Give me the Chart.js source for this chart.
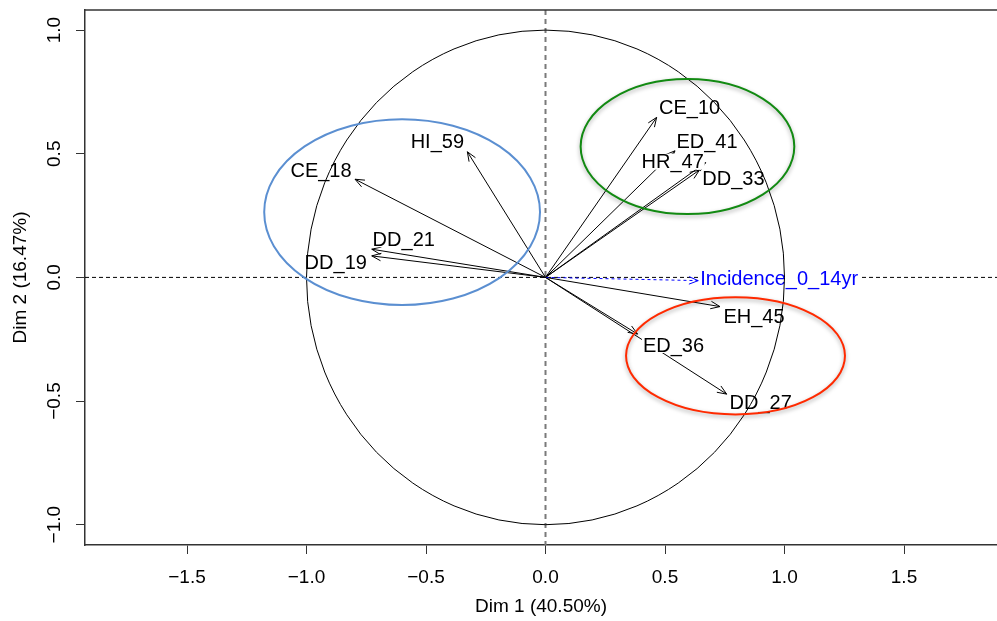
<!DOCTYPE html>
<html>
<head>
<meta charset="utf-8">
<script src="https://cdn.jsdelivr.net/npm/chart.js@4/dist/chart.umd.min.js"></script>
<style>
html,body{margin:0;padding:0;background:#fff;}
#c{display:block;}
</style>
</head>
<body>
<canvas id="c" width="997" height="621"></canvas>
<script>
// ---- data ----
const varNames = ["CE_10","ED_41","HR_47","DD_33","HI_59","CE_18","DD_21","DD_19","Incidence_0_14yr","EH_45","ED_36","DD_27"];
const dim1 = [0.465, 0.542, 0.670, 0.644, -0.327, -0.797, -0.727, -0.727, 0.639, 0.730, 0.385, 0.758];
const dim2 = [0.647, 0.512, 0.464, 0.434, 0.508, 0.397, 0.114, 0.087, -0.013, -0.118, -0.229, -0.472];
const supplementary = [false,false,false,false,false,false,false,false,true,false,false,false];
const xTicks = [-1.5, -1.0, -0.5, 0.0, 0.5, 1.0, 1.5];
const yTicks = [-1.0, -0.5, 0.0, 0.5, 1.0];
const xTitle = "Dim 1 (40.50%)";
const yTitle = "Dim 2 (16.47%)";
// group ellipses: centre x, centre y, radius x, radius y (in axis units)
const groupCx = [-0.600, 0.594, 0.795];
const groupCy = [0.264, 0.529, -0.317];
const groupRx = [0.577, 0.447, 0.458];
const groupRy = [0.376, 0.273, 0.237];

// ---- styling ----
const groupColors = ["#5b8fd1", "#128a12", "#ff2a00"];
const groupShadow = [false, true, true];
// label offsets in pixels from arrow tip to label centre (left-aligned for supplementary)
const labelOffsets = [[33,-10],[32,-9],[-33,-1],[34,8],[-30,-10],[-34,-9],[32,-10],[-36,7],[2,-2],[34,10],[36,11],[34,8]];
const FONT = '"Liberation Sans", Arial, Helvetica, sans-serif';

const datasets = varNames.map((n,i)=>({
  label: n,
  data: [{x:0,y:0},{x:dim1[i],y:dim2[i]}],
  showLine: true,
  borderColor: supplementary[i] ? '#0000ff' : '#000000',
  borderWidth: 1,
  borderDash: supplementary[i] ? [3,3] : [],
  pointRadius: 0,
  fill: false,
  tension: 0
}));

const pcaPlugin = {
  id: 'pca',
  beforeDatasetsDraw(chart){
    const {ctx, chartArea:a, scales:{x,y}} = chart;
    ctx.save();
    // zero lines
    ctx.lineWidth = 1;
    ctx.strokeStyle = '#000';
    ctx.setLineDash([4,3]);
    const y0 = y.getPixelForValue(0);
    ctx.beginPath(); ctx.moveTo(a.left, y0); ctx.lineTo(a.right, y0); ctx.stroke();
    ctx.strokeStyle = '#7a7a7a';
    ctx.lineWidth = 2;
    ctx.setLineDash([5,4]);
    const x0 = x.getPixelForValue(0);
    ctx.beginPath(); ctx.moveTo(x0, a.top); ctx.lineTo(x0, a.bottom); ctx.stroke();
    ctx.setLineDash([]);
    // top border line
    ctx.strokeStyle = '#333';
    ctx.lineWidth = 1.5;
    ctx.beginPath(); ctx.moveTo(a.left, a.top); ctx.lineTo(a.right, a.top); ctx.stroke();
    ctx.restore();
  },
  afterDatasetsDraw(chart){
    const {ctx, scales:{x,y}} = chart;
    ctx.save();
    const x0 = x.getPixelForValue(0), y0 = y.getPixelForValue(0);
    // arrowheads
    varNames.forEach((n,i)=>{
      const tx = x.getPixelForValue(dim1[i]), ty = y.getPixelForValue(dim2[i]);
      const ang = Math.atan2(ty-y0, tx-x0);
      const L = 10, h = 22*Math.PI/180;
      ctx.strokeStyle = supplementary[i] ? '#0000ff' : '#000';
      ctx.lineWidth = 1;
      ctx.setLineDash([]);
      ctx.beginPath();
      ctx.moveTo(tx - L*Math.cos(ang-h), ty - L*Math.sin(ang-h));
      ctx.lineTo(tx, ty);
      ctx.lineTo(tx - L*Math.cos(ang+h), ty - L*Math.sin(ang+h));
      ctx.stroke();
    });
    // labels
    ctx.font = '20px ' + FONT;
    ctx.textBaseline = 'middle';
    varNames.forEach((n,i)=>{
      const tx = x.getPixelForValue(dim1[i]), ty = y.getPixelForValue(dim2[i]);
      const [dx,dy] = labelOffsets[i];
      const w = ctx.measureText(n).width;
      let lx, cy = ty + dy;
      if (supplementary[i]) { lx = tx + dx; } else { lx = tx + dx - w/2; }
      ctx.fillStyle = '#fff';
      ctx.fillRect(lx-1, cy-8, w+2, 16);
      ctx.fillStyle = supplementary[i] ? '#0000ff' : '#000';
      ctx.textAlign = 'left';
      ctx.fillText(n, lx, cy+1);
    });
    // correlation circle
    ctx.strokeStyle = '#000';
    ctx.lineWidth = 1;
    const rx = x.getPixelForValue(1) - x0, ry = y0 - y.getPixelForValue(1);
    ctx.beginPath(); ctx.ellipse(x0, y0, rx, ry, 0, 0, Math.PI*2); ctx.stroke();
    // group ellipses
    groupCx.forEach((c,i)=>{
      const cx = x.getPixelForValue(c), cyy = y.getPixelForValue(groupCy[i]);
      const erx = x.getPixelForValue(c+groupRx[i]) - cx;
      const ery = cyy - y.getPixelForValue(groupCy[i]+groupRy[i]);
      ctx.save();
      if (groupShadow[i]) {
        ctx.shadowColor = 'rgba(0,0,0,0.35)';
        ctx.shadowBlur = 4;
        ctx.shadowOffsetY = 2;
      }
      ctx.strokeStyle = groupColors[i];
      ctx.lineWidth = 2;
      ctx.beginPath(); ctx.ellipse(cx, cyy, erx, ery, 0, 0, Math.PI*2); ctx.stroke();
      ctx.restore();
    });
    ctx.restore();
  }
};

const fmt = v => (Math.abs(v) < 1e-9 ? 0 : v).toFixed(1).replace('-', '\u2212');

new Chart(document.getElementById('c'), {
  type: 'scatter',
  data: { datasets },
  options: {
    responsive: false,
    animation: false,
    devicePixelRatio: 1,
    layout: { padding: { top: 10, right: 0, left: 0, bottom: 0 } },
    plugins: { legend: { display: false }, tooltip: { enabled: false } },
    scales: {
      x: {
        type: 'linear',
        min: -1.9268, max: 1.8891,
        afterFit: s => { s.height = 76; s.paddingLeft = 0; s.paddingRight = 0; },
        afterBuildTicks: s => { s.ticks = xTicks.map(v => ({value: v})); },
        grid: { display: true, drawOnChartArea: false, drawTicks: true, tickLength: 9, color: '#333', lineWidth: 1 },
        border: { display: true, color: '#333', width: 1.5 },
        ticks: { color: '#000', font: { family: FONT, size: 19 }, padding: 12, maxRotation: 0, minRotation: 0, callback: fmt },
        title: { display: true, text: xTitle, color: '#000', font: { family: FONT, size: 19 }, padding: { top: 0, bottom: 3 } }
      },
      y: {
        type: 'linear',
        min: -1.0821, max: 1.0813,
        afterFit: s => { s.width = 85; s.paddingTop = 0; s.paddingBottom = 0; },
        afterBuildTicks: s => { s.ticks = yTicks.map(v => ({value: v})); },
        grid: { display: true, drawOnChartArea: false, drawTicks: true, tickLength: 9, color: '#333', lineWidth: 1 },
        border: { display: true, color: '#333', width: 1.5 },
        ticks: { color: '#000', font: { family: FONT, size: 19 }, padding: 2, minRotation: 90, maxRotation: 90, crossAlign: 'center', callback: fmt },
        title: { display: true, text: yTitle, color: '#000', font: { family: FONT, size: 19 }, padding: { top: 9, bottom: 0 } }
      }
    }
  },
  plugins: [pcaPlugin]
});
</script>
</body>
</html>
